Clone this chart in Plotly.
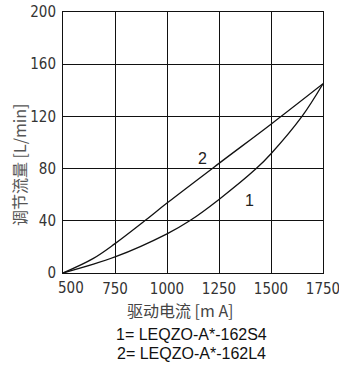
import plotly.graph_objects as go

current_ma = [500, 644, 750, 893, 1000, 1250, 1500, 1750]
flow_2 = [0, 11, 22.5, 40, 53.6, 84, 114, 145]
current_1 = [500, 750, 1000, 1109, 1250, 1429, 1500, 1649, 1750]
flow_1 = [0, 12.3, 30, 40, 56.4, 80, 91.4, 120, 145]

x_ticks = [500, 750, 1000, 1250, 1500, 1750]
x_tick_labels = ["", "750", "1000", "1250", "1500", "1750"]
first_x_label = "500"
y_ticks = [0, 40, 80, 120, 160, 200]

tick_font = dict(family="Liberation Sans Narrow, DejaVu Sans Condensed, sans-serif", size=15, color="#333")

fig = go.Figure()
fig.add_trace(go.Scatter(x=current_1, y=flow_1, mode="lines", line=dict(color="#111", width=1.3, shape="spline"), showlegend=False, cliponaxis=False))
fig.add_trace(go.Scatter(x=current_ma, y=flow_2, mode="lines", line=dict(color="#111", width=1.3, shape="spline"), showlegend=False, cliponaxis=False))

def ann(x, y, text, font, ref="paper", angle=0):
    return dict(x=x, y=y, xref="x" if ref == "data" else "paper", yref="y" if ref == "data" else "paper",
                text=text, showarrow=False, xanchor="center", yanchor="middle", textangle=angle, font=font)

first_tick = ann(x_ticks[0], -0.056, first_x_label, tick_font)
first_tick["xref"] = "x"
first_tick["xshift"] = 8

fig.update_layout(
    width=339, height=368,
    margin=dict(l=63, r=16, t=12, b=95, autoexpand=False),
    paper_bgcolor="white", plot_bgcolor="white",
    xaxis=dict(range=[500, 1750], tickvals=x_ticks, ticktext=x_tick_labels, showgrid=True, gridcolor="#111", gridwidth=1,
               showline=True, linecolor="#111", linewidth=1, mirror=True, zeroline=False, automargin=False,
               tickfont=tick_font, ticks="", ticklabelstandoff=2, ticklabeloverflow="allow"),
    yaxis=dict(range=[0, 200], tickvals=y_ticks, showgrid=True, gridcolor="#111", gridwidth=1,
               showline=True, linecolor="#111", linewidth=1, mirror=True, zeroline=False, automargin=False,
               tickfont=tick_font, ticks="", ticklabelstandoff=3, ticklabeloverflow="allow"),
    annotations=[
        first_tick,
        ann(1173, 88, "2", dict(family="Liberation Sans, Arial, sans-serif", size=16, color="#222"), ref="data"),
        ann(1397, 55.7, "1", dict(family="Liberation Sans, Arial, sans-serif", size=16, color="#222"), ref="data"),
        ann(-0.169, 0.414, "调节流量 [L/min]", dict(family="Noto Sans CJK SC, sans-serif", size=16, color="#555"), angle=-90),
        ann(0.45, -0.142, "驱动电流 [m A]", dict(family="Noto Sans CJK SC, serif", size=16, color="#444")),
        ann(0.496, -0.2375, "1= LEQZO-A*-162S4", dict(family="Liberation Sans, Arial, sans-serif", size=16, color="#111")),
        ann(0.496, -0.31, "2= LEQZO-A*-162L4", dict(family="Liberation Sans, Arial, sans-serif", size=16, color="#111")),
    ],
)

fig.write_html("out.html", post_script="document.body.style.margin='0';", config={"displayModeBar": False})
